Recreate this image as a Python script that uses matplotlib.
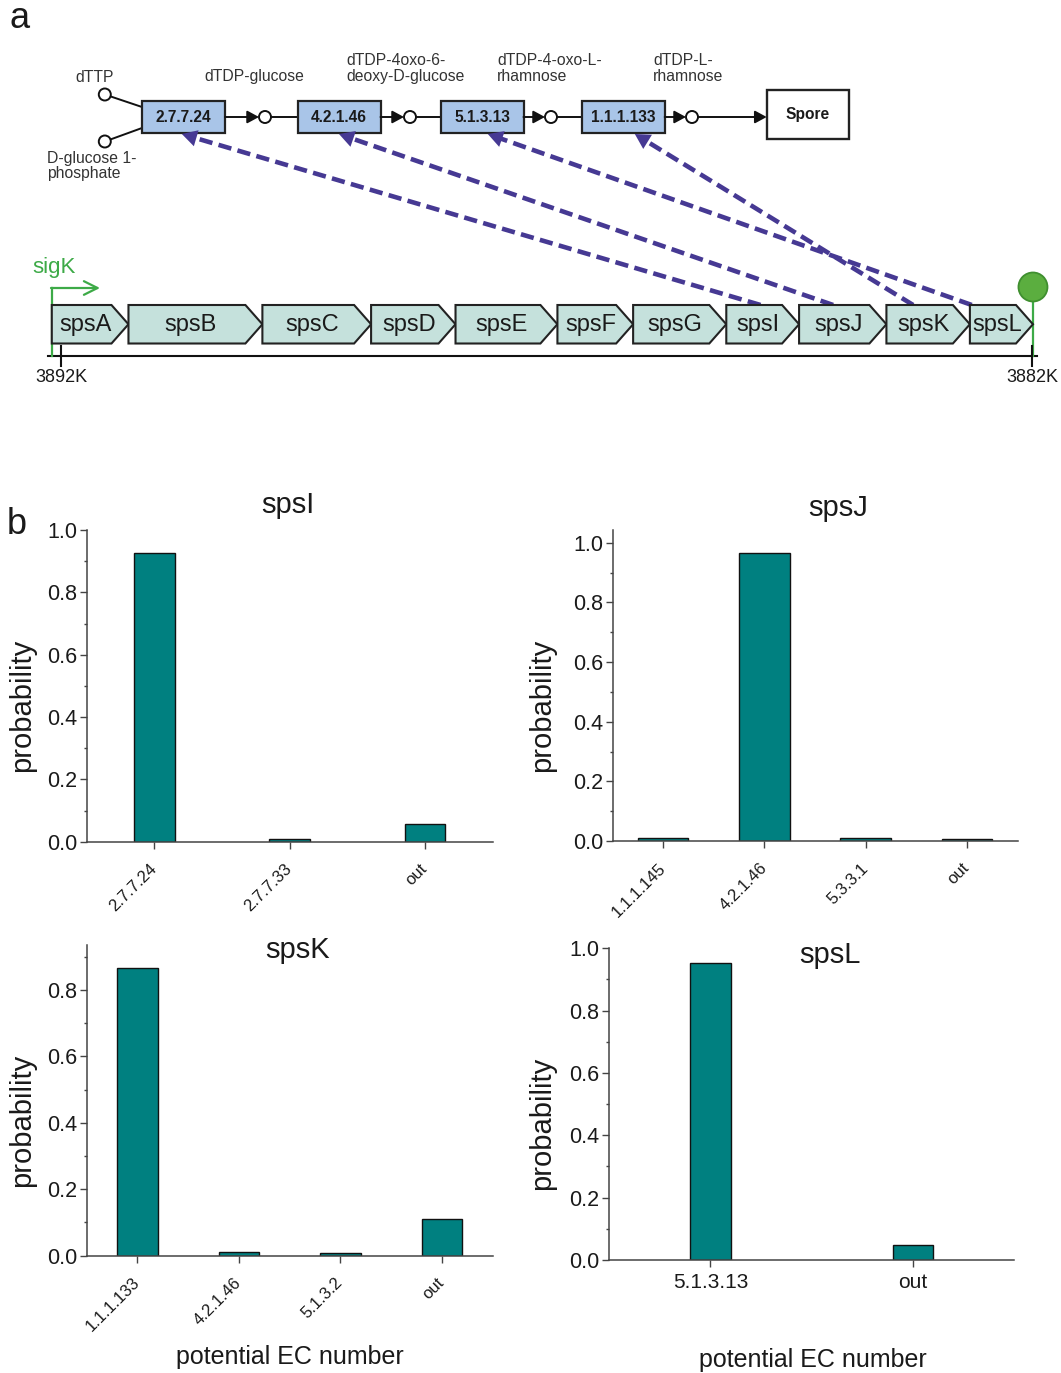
import matplotlib

matplotlib.use("Agg")
import matplotlib.pyplot as plt
import numpy as np
from matplotlib.patches import Circle, Polygon, Rectangle
from matplotlib.ticker import FormatStrFormatter, MultipleLocator

plt.rcParams["font.family"] = ["Liberation Sans", "DejaVu Sans"]

# -----------------------------------------------------------------------------
# Data
# -----------------------------------------------------------------------------
# operon (genome coordinates in kb, reverse strand: runs from 3892K to 3882K)
gene_names = ["spsA", "spsB", "spsC", "spsD", "spsE", "spsF", "spsG",
              "spsI", "spsJ", "spsK", "spsL"]
gene_start_kb = [3892.10, 3891.31, 3889.93, 3888.81, 3887.94, 3886.89,
                 3886.11, 3885.15, 3884.40, 3883.50, 3882.64]
gene_end_kb = [3891.31, 3889.93, 3888.81, 3887.94, 3886.89, 3886.11,
               3885.15, 3884.40, 3883.50, 3882.64, 3881.99]
axis_ticks_kb = [3892, 3882]
axis_tick_labels = ["3892K", "3882K"]

# dTDP-L-rhamnose pathway
enzymes = ["2.7.7.24", "4.2.1.46", "5.1.3.13", "1.1.1.133"]
substrates = ["dTTP", "D-glucose 1-\nphosphate"]
intermediates = ["dTDP-glucose", "dTDP-4oxo-6-\ndeoxy-D-glucose",
                 "dTDP-4-oxo-L-\nrhamnose", "dTDP-L-\nrhamnose"]
product = "Spore"

# gene -> predicted enzyme links
link_genes = ["spsI", "spsJ", "spsK", "spsL"]
link_enzymes = ["2.7.7.24", "4.2.1.46", "1.1.1.133", "5.1.3.13"]

# predicted EC number probabilities
ec_spsI = ["2.7.7.24", "2.7.7.33", "out"]
prob_spsI = [0.925, 0.0075, 0.057]
ec_spsJ = ["1.1.1.145", "4.2.1.46", "5.3.3.1", "out"]
prob_spsJ = [0.011, 0.966, 0.011, 0.0056]
ec_spsK = ["1.1.1.133", "4.2.1.46", "5.1.3.2", "out"]
prob_spsK = [0.867, 0.012, 0.007, 0.110]
ec_spsL = ["5.1.3.13", "out"]
prob_spsL = [0.952, 0.049]

# -----------------------------------------------------------------------------
# Figure setup
# -----------------------------------------------------------------------------
W, H = 1061, 1373
fig = plt.figure(figsize=(W / 100, H / 100), dpi=100)
TXT = "#1a1a1a"
TEAL = "#008080"
GENE_FILL = "#c5e1dc"
BOX_FILL = "#a9c5e8"
LINK = "#463993"
GREEN = "#3daa47"


def px_rect(x0, y0, x1, y1):
    return [x0 / W, 1 - y1 / H, (x1 - x0) / W, (y1 - y0) / H]


# -----------------------------------------------------------------------------
# Panel a: pathway + operon
# -----------------------------------------------------------------------------
TOP_H = 430
ax_path = fig.add_axes(px_rect(0, 0, W, TOP_H))
ax_path.set_xlim(0, W)
ax_path.set_ylim(TOP_H, 0)
ax_path.axis("off")

ax_gene = fig.add_axes(px_rect(0, 0, W, TOP_H), label="genes")
kb_px = (1032 - 61.5) / (axis_ticks_kb[0] - axis_ticks_kb[1])
ax_gene.set_xlim(axis_ticks_kb[0] + 61.5 / kb_px, axis_ticks_kb[0] - (W - 61.5) / kb_px)
ax_gene.set_ylim(TOP_H, 0)
ax_gene.axis("off")

# pathway boxes
box_left = [142, 297.5, 440.5, 581.7]
box_w, box_top, box_bot = 83, 101, 133
box_mid = (box_top + box_bot) / 2
circ_x = [265, 410, 551, 692]
r_c = 6
arrow_kw = dict(arrowstyle="-|>,head_length=0.5,head_width=0.27", mutation_scale=14,
                color="#111111", lw=1.4, shrinkA=0, shrinkB=0)

for i, ec in enumerate(enzymes):
    x0 = box_left[i]
    ax_path.add_patch(Rectangle((x0, box_top), box_w, box_bot - box_top,
                                facecolor=BOX_FILL, edgecolor="#222222", lw=1.6, zorder=3))
    ax_path.text(x0 + box_w / 2, box_mid, ec, ha="center", va="center",
                 fontsize=11.2, fontweight="bold", color=TXT, zorder=4)
    ax_path.annotate("", xy=(circ_x[i] - r_c, box_mid), xytext=(x0 + box_w, box_mid),
                     arrowprops=arrow_kw)
    ax_path.add_patch(Circle((circ_x[i], box_mid), r_c, facecolor="white",
                             edgecolor="#111111", lw=1.4, zorder=3))
    if i + 1 < len(enzymes):
        ax_path.plot([circ_x[i] + r_c, box_left[i + 1]], [box_mid, box_mid],
                     color="#111111", lw=1.4)

# product box
ax_path.add_patch(Rectangle((766.7, 90), 82.5, 49, facecolor="white",
                            edgecolor="#222222", lw=1.7, zorder=3))
ax_path.text(808, 114, product, ha="center", va="center", fontsize=11.2,
             fontweight="bold", color=TXT)
ax_path.annotate("", xy=(766.7, box_mid), xytext=(circ_x[-1] + r_c, box_mid),
                 arrowprops=arrow_kw)

# substrates
sub_y = [94.5, 141.5]
sub_join = [107, 128]
for sy, jy in zip(sub_y, sub_join):
    ax_path.plot([104.8, box_left[0]], [sy, jy], color="#111111", lw=1.4)
    ax_path.add_patch(Circle((104.8, sy), r_c, facecolor="white",
                             edgecolor="#111111", lw=1.4, zorder=3))
ax_path.text(95, 77, substrates[0], ha="center", va="center", fontsize=11.3, color="#333333")
ax_path.text(47, 166, substrates[1], ha="left", va="center", fontsize=11.3,
             color="#333333", linespacing=1.05)

# intermediates
ax_path.text(254, 77, intermediates[0], ha="center", va="center", fontsize=11.3, color="#333333")
for txt, x in zip(intermediates[1:], [346, 497, 653]):
    ax_path.text(x, 68.5, txt, ha="left", va="center", fontsize=11.3,
                 color="#333333", linespacing=1.05)

# operon genes
g_top, g_bot = 305, 343.5
g_mid = (g_top + g_bot) / 2
tip_kb = 0.175
for name, s, e in zip(gene_names, gene_start_kb, gene_end_kb):
    body_end = e + tip_kb
    verts = [(s, g_top), (body_end, g_top), (e, g_mid), (body_end, g_bot), (s, g_bot)]
    ax_gene.add_patch(Polygon(verts, closed=True, facecolor=GENE_FILL,
                              edgecolor="#222222", lw=1.5, zorder=2))
    # axis runs right-to-left, so subtracting moves the label right
    ax_gene.text((s + body_end) / 2 - 0.04, g_mid + 1, name, ha="center", va="center",
                 fontsize=17, color=TXT, zorder=3)

# genome axis
base_y = 356.5
ax_path.plot([48, 1037], [base_y, base_y], color="#111111", lw=1.5)
for kb, lab in zip(axis_ticks_kb, axis_tick_labels):
    ax_gene.plot([kb, kb], [base_y - 10, base_y + 10], color="#111111", lw=1.5)
    ax_gene.text(kb, 378, lab, ha="center", va="center", fontsize=13, color=TXT)

# promoter sigK
px0 = ax_path.transData.inverted().transform(
    ax_gene.transData.transform((gene_start_kb[0], 0)))[0]
ax_path.plot([px0, px0], [base_y, 288], color=GREEN, lw=1.6, zorder=4)
ax_path.annotate("", xy=(100, 288), xytext=(px0 - 0.8, 288),
                 arrowprops=dict(arrowstyle="->,head_length=0.7,head_width=0.35",
                                 mutation_scale=14, color=GREEN, lw=1.6,
                                 shrinkA=0, shrinkB=0))
ax_path.text(32, 268, "sigK", ha="left", va="center", fontsize=16, color=GREEN)

# terminator
pt = ax_path.transData.inverted().transform(
    ax_gene.transData.transform((gene_end_kb[-1], 0)))[0]
ax_path.plot([pt, pt], [base_y, 300], color=GREEN, lw=1.6, zorder=4)
ax_path.add_patch(Circle((pt, 287), 14.5, facecolor="#5bae3f",
                         edgecolor="#3f8f2f", lw=1.3, zorder=5))

# gene -> enzyme links
gene_frac = [0.47, 0.39, 0.32, 0.03]
box_frac = [0.48, 0.50, 0.64, 0.57]
for gname, ec, gf, bf in zip(link_genes, link_enzymes, gene_frac, box_frac):
    gi = gene_names.index(gname)
    gx_kb = gene_start_kb[gi] + gf * (gene_end_kb[gi] - gene_start_kb[gi])
    x0, y0 = ax_path.transData.inverted().transform(
        ax_gene.transData.transform((gx_kb, g_top)))
    bi = enzymes.index(ec)
    x1, y1 = box_left[bi] + bf * box_w, box_bot + 1
    d = np.hypot(x0 - x1, y0 - y1)
    ux, uy = (x0 - x1) / d, (y0 - y1) / d
    ax_path.plot([x0, x1 + ux * 10], [y0, y1 + uy * 10], color=LINK, lw=3.3,
                 linestyle=(0, (2.9, 1.4)), dash_capstyle="butt", zorder=5)
    ax_path.annotate("", xy=(x1, y1), xytext=(x1 + ux * 30, y1 + uy * 30),
                     arrowprops=dict(arrowstyle="-|>,head_length=0.9,head_width=0.5",
                                     mutation_scale=12, color=LINK, lw=0,
                                     shrinkA=0, shrinkB=0), zorder=6)

fig.text(20 / W, 1 - 18 / H, "a", ha="center", va="center", fontsize=26, color=TXT)
fig.text(17 / W, 1 - 525 / H, "b", ha="center", va="center", fontsize=26, color=TXT)


# -----------------------------------------------------------------------------
# Panel b: bar charts
# -----------------------------------------------------------------------------
def bar_panel(rect, ecs, probs, width, ytop, rotate):
    ax = fig.add_axes(px_rect(*rect))
    x = np.arange(len(ecs))
    ax.bar(x, probs, width=width, color=TEAL, edgecolor="#111111", linewidth=1.0, zorder=2)
    ax.set_xlim(-0.5, len(ecs) - 0.5)
    ax.set_ylim(0, ytop)
    ax.yaxis.set_major_locator(MultipleLocator(0.2))
    ax.yaxis.set_minor_locator(MultipleLocator(0.1))
    ax.yaxis.set_major_formatter(FormatStrFormatter("%.1f"))
    ax.set_xticks(x)
    ax.set_xticklabels(ecs)
    for side in ["top", "right"]:
        ax.spines[side].set_visible(False)
    for side in ["left", "bottom"]:
        ax.spines[side].set_color("#444444")
        ax.spines[side].set_linewidth(1.1)
    ax.tick_params(axis="y", which="major", direction="out", length=4.8, width=1.0,
                   color="#444444", labelsize=15.5, labelcolor=TXT, pad=2)
    ax.tick_params(axis="y", which="minor", direction="out", length=2.4, width=1.0,
                   color="#444444")
    if rotate:
        ax.tick_params(axis="x", direction="out", length=4.8, width=1.0,
                       color="#444444", labelsize=12, labelcolor=TXT, pad=13)
        plt.setp(ax.get_xticklabels(), rotation=45, ha="right", va="center",
                 rotation_mode="anchor")
    else:
        ax.tick_params(axis="x", direction="out", length=4.8, width=1.0,
                       color="#444444", labelsize=15, labelcolor=TXT, pad=4.5)
    return ax


bar_panel((86.7, 530, 492.7, 841.7), ec_spsI, prob_spsI, 0.3, 1.0, True)
bar_panel((612.5, 530, 1017.6, 841), ec_spsJ, prob_spsJ, 0.5, 1.0425, True)
bar_panel((86.7, 945, 492.7, 1255.7), ec_spsK, prob_spsK, 0.4, 0.935, True)
bar_panel((609, 948.3, 1014.5, 1260), ec_spsL, prob_spsL, 0.2, 1.0, False)

titles = ["spsI", "spsJ", "spsK", "spsL"]
title_xy = [(288, 505), (838, 508), (298, 950), (830, 955)]
for t, (tx, ty) in zip(titles, title_xy):
    fig.text(tx / W, 1 - ty / H, t, ha="center", va="center", fontsize=21, color=TXT)

for yx, yy in [(21.7, 705), (542.4, 705), (21.7, 1120), (542.4, 1123)]:
    fig.text(yx / W, 1 - yy / H, "probability", rotation=90, ha="center",
             va="center", fontsize=21, color=TXT)

for lx, ly in [(290, 1357), (813, 1360)]:
    fig.text(lx / W, 1 - ly / H, "potential EC number", ha="center", va="center",
             fontsize=18, color=TXT)

fig.savefig("out.png", dpi=100)
plt.close(fig)
